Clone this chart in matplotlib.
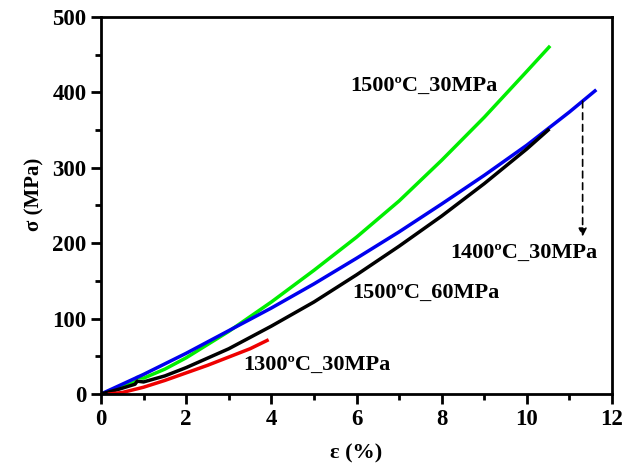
import matplotlib.pyplot as plt
from matplotlib.ticker import MultipleLocator

# strain (%) / stress (MPa)
eps_1500_30 = [0, 0.4, 0.8, 0.85, 1.0, 1.5, 2, 3, 4, 5, 6, 7, 8, 9, 10, 10.52]
sig_1500_30 = [0, 7, 16, 22, 21, 33, 48, 83, 122, 164, 208, 256, 310, 367, 428, 460]

eps_1400_30 = [0, 1, 2, 3, 4, 5, 6, 7, 8, 9, 10, 11, 11.6]
sig_1400_30 = [0, 26, 54, 84, 114, 146, 180, 215, 252, 290, 330, 374, 402]

eps_1500_60 = [0, 0.4, 0.8, 0.85, 1.0, 1.5, 2, 3, 4, 5, 6, 7, 8, 9, 10, 10.5]
sig_1500_60 = [0, 6, 13, 17, 16, 24, 35, 60, 90, 122, 158, 196, 236, 279, 325, 350]

eps_1300_30 = [0.2, 0.5, 1, 1.5, 2, 2.5, 3, 3.5, 3.9]
sig_1300_30 = [0, 2, 9, 18, 28, 38, 49, 60, 71]

labels = ["1500ºC_30MPa", "1400ºC_30MPa", "1500ºC_60MPa", "1300ºC_30MPa"]

plt.rcParams['font.family'] = ['Liberation Serif', 'DejaVu Serif']
plt.rcParams['font.weight'] = 'bold'

fig = plt.figure(figsize=(6.37, 4.65), dpi=100)
ax = fig.add_axes([101/637, 71/465, 511/637, 377/465])

ax.plot(eps_1500_30, sig_1500_30, color='#00ee00', lw=2.5)
ax.plot(eps_1400_30, sig_1400_30, color='#0000ee', lw=2.5)
ax.plot(eps_1500_60, sig_1500_60, color='black', lw=2.5)
ax.plot(eps_1300_30, sig_1300_30, color='#ee0000', lw=2.5)

# dashed arrow pointing at the 1400 label
ax.annotate("", xy=(11.31, 205), xytext=(11.31, 392),
            arrowprops=dict(arrowstyle='-|>', color='black', lw=1.2,
                            linestyle=(0, (4, 3)), mutation_scale=12))

fs = 16
ax.text(5.85, 408, labels[0], fontsize=fs, fontweight='bold', va='center')
ax.text(8.2, 187, labels[1], fontsize=fs, fontweight='bold', va='center')
ax.text(5.9, 134, labels[2], fontsize=fs, fontweight='bold', va='center')
ax.text(3.33, 38, labels[3], fontsize=fs, fontweight='bold', va='center')

ax.set_xlim(0, 12)
ax.set_ylim(0, 500)
ax.xaxis.set_major_locator(MultipleLocator(2))
ax.xaxis.set_minor_locator(MultipleLocator(1))
ax.yaxis.set_major_locator(MultipleLocator(100))
ax.yaxis.set_minor_locator(MultipleLocator(50))
ax.tick_params(which='major', direction='out', length=7, width=2, labelsize=16.5)
ax.tick_params(which='minor', direction='out', length=4, width=2)
for lab in ax.get_xticklabels() + ax.get_yticklabels():
    lab.set_fontweight('bold')
for s in ax.spines.values():
    s.set_linewidth(2)

ax.set_xlabel("ε (%)", fontsize=16, fontweight='bold')
ax.set_ylabel("σ (MPa)", fontsize=15, fontweight='bold')
ax.xaxis.set_label_coords(0.5, -0.13)
ax.yaxis.set_label_coords(-0.11, 0.53)

fig.savefig("out.png", dpi=100)
